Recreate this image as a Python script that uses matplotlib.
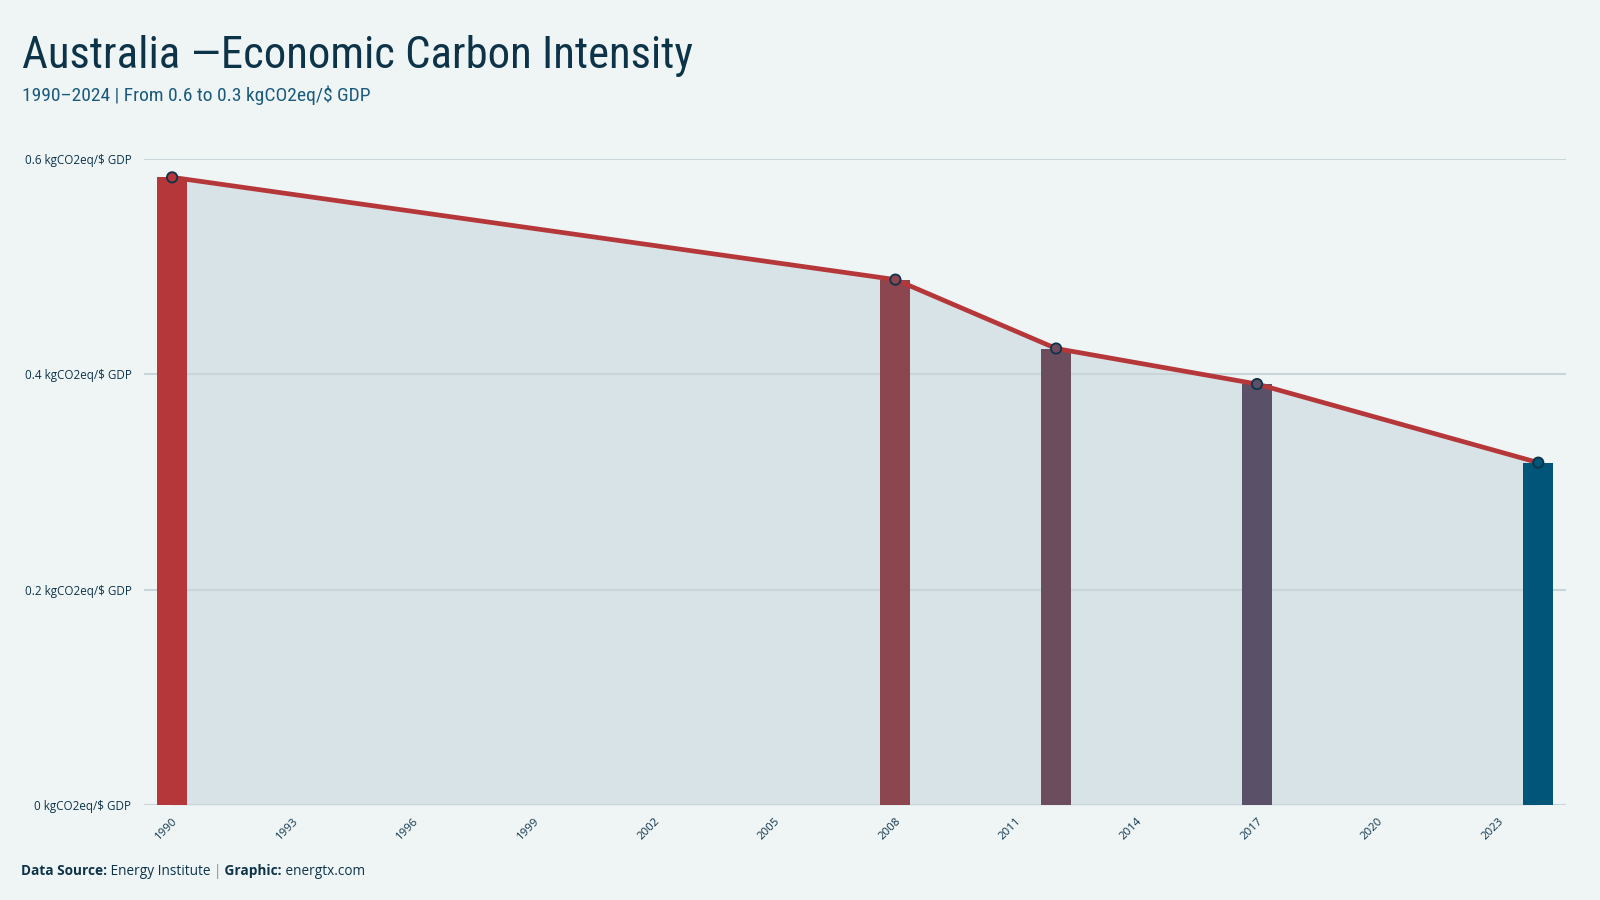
import matplotlib
matplotlib.use('Agg')
import matplotlib.pyplot as plt
from matplotlib import font_manager

# data
years = [1990, 2008, 2012, 2017, 2024]
intensity = [0.583, 0.488, 0.424, 0.391, 0.318]
bar_colors = ['#b5373a', '#8b464f', '#6c4d5d', '#5a5068', '#005578']
xtick_years = list(range(1990, 2024, 3))
ytick_vals = [0, 0.2, 0.4, 0.6]
ytick_labels = ['0 kgCO2eq/$ GDP', '0.2 kgCO2eq/$ GDP', '0.4 kgCO2eq/$ GDP', '0.6 kgCO2eq/$ GDP']

BG = '#eff5f5'
NAVY = '#0d3349'
LINE_RED = '#b5373a'

installed = {f.name for f in font_manager.fontManager.ttflist}
narrow = [f for f in ['Liberation Sans Narrow', 'Roboto Condensed', 'Open Sans Condensed'] if f in installed]
title_font = narrow + ['Roboto', 'DejaVu Sans']
body_font = ['Open Sans', 'Noto Sans', 'DejaVu Sans']
plt.rcParams['font.family'] = body_font

fig = plt.figure(figsize=(16, 9), dpi=100, facecolor=BG)
ax = fig.add_axes([0.09, 0.1056, 0.889, 0.7177])
ax.set_facecolor(BG)

# area under the line
ax.fill_between(years, intensity, 0, color='#d7e3e7', zorder=1, linewidth=0)

# gridlines
for v in ytick_vals:
    ax.axhline(v, color='#c8d6da', linewidth=1.5, zorder=2)

# bars
ax.bar(years, intensity, width=0.75, color=bar_colors, zorder=3, linewidth=0)

# line + markers
ax.plot(years, intensity, color=LINE_RED, linewidth=3.4, zorder=4,
        solid_capstyle='round')
ax.scatter(years, intensity, s=55, c=bar_colors, edgecolors=NAVY,
           linewidths=1.3, zorder=5)

ax.set_xlim(1989.3, 2024.7)
ax.set_ylim(0, 0.6)
ax.set_xticks(xtick_years)
ax.set_xticklabels([str(y) for y in xtick_years], rotation=45, ha='right',
                   rotation_mode='anchor', fontsize=8.2, color=NAVY)
ax.set_yticks(ytick_vals)
ax.set_yticklabels(ytick_labels, fontsize=8.4, color=NAVY)
ax.tick_params(axis='both', length=0)
ax.tick_params(axis='y', pad=9)
ax.tick_params(axis='x', pad=8)
for s in ax.spines.values():
    s.set_visible(False)

# title + subtitle
fig.text(0.014, 0.924, 'Australia \u2014Economic Carbon Intensity', fontsize=32.2,
         color=NAVY, family=title_font, va='baseline')
fig.text(0.014, 0.888, '1990\u20132024 | From 0.6 to 0.3 kgCO2eq/$ GDP', fontsize=14,
         color='#1b5a7c', family=title_font, va='baseline')

# footer with mixed weights
pieces = [('Data Source:', 'bold', NAVY), (' Energy Institute ', 'normal', NAVY),
          ('|', 'normal', '#6f8d9c'), (' Graphic:', 'bold', NAVY),
          (' energtx.com', 'normal', NAVY)]
renderer = fig.canvas.get_renderer()
x = 0.013
for txt, weight, col in pieces:
    t = fig.text(x, 0.028, txt, fontsize=9.8, fontweight=weight, color=col,
                 va='baseline')
    bb = t.get_window_extent(renderer=renderer)
    x += bb.width / fig.bbox.width

fig.savefig('out.png', dpi=100, facecolor=BG)
